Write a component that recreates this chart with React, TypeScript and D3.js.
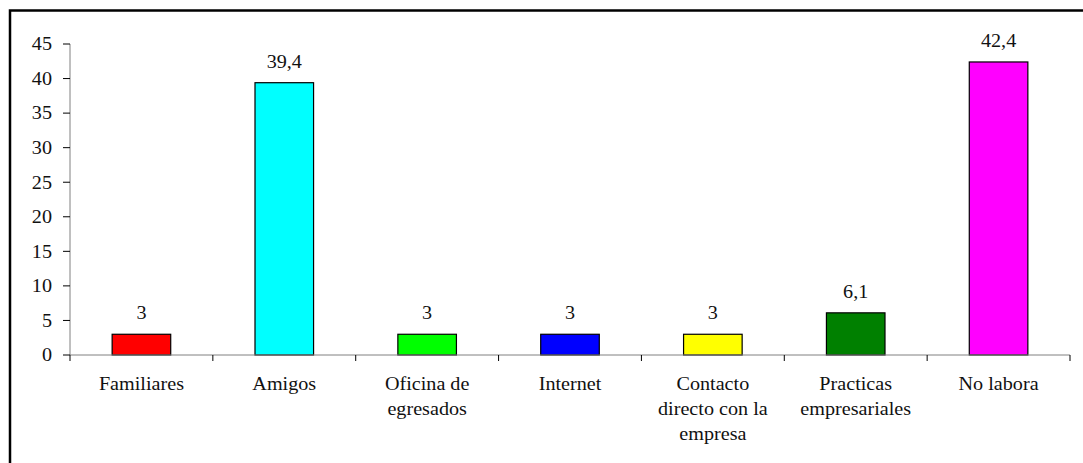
import React from 'react';
import * as d3 from 'd3';

const categories = ['Familiares', 'Amigos', 'Oficina de egresados', 'Internet', 'Contacto directo con la empresa', 'Practicas empresariales', 'No labora'];
const labelLines = [['Familiares'], ['Amigos'], ['Oficina de', 'egresados'], ['Internet'], ['Contacto', 'directo con la', 'empresa'], ['Practicas', 'empresariales'], ['No labora']];
const values = [3, 39.4, 3, 3, 3, 6.1, 42.4];
const valueLabels = ['3', '39,4', '3', '3', '3', '6,1', '42,4'];
const colors = ['#ff0000', '#00ffff', '#00ff00', '#0000ff', '#ffff00', '#008000', '#ff00ff'];
const yTicks = [0, 5, 10, 15, 20, 25, 30, 35, 40, 45];

const W = 1083, H = 463;
const left = 70, right = 1070, top = 44, bottom = 355;
const txt: React.CSSProperties = { fontFamily: "'Liberation Serif', 'Times New Roman', serif", fontSize: 18 };
// the original text is stretched a bit wider than normal Times
const stretch = (x: number, y: number) => `translate(${x},${y}) scale(1.12,1)`;

export default function App() {
  const x = d3.scaleBand().domain(categories).range([left, right]).paddingInner(0).paddingOuter(0);
  const y = d3.scaleLinear().domain([0, 45]).range([bottom, top]);
  const bw = x.bandwidth() * 0.41;

  return (
    <svg width={W} height={H} style={{ position: 'absolute', left: 0, top: 0 }}>
      <rect x={0} y={0} width={W} height={H} fill="#fff" />
      <rect x={10} y={10.5} width={W + 20} height={H + 20} fill="none" stroke="#000" strokeWidth={2.5} />

      {/* y axis */}
      <line x1={left} x2={left} y1={top} y2={bottom} stroke="#808080" strokeWidth={1} />
      {yTicks.map(t => (
        <g key={t}>
          <line x1={left - 7} x2={left} y1={y(t)} y2={y(t)} stroke="#000" strokeWidth={1} />
          <text transform={stretch(52, y(t))} dy="0.35em" textAnchor="end" style={txt} fill="#111">{t}</text>
        </g>
      ))}

      {/* bars */}
      {categories.map((c, i) => {
        const cx = x(c)! + x.bandwidth() / 2;
        return (
          <g key={c}>
            <rect x={cx - bw / 2} y={y(values[i])} width={bw} height={y(0) - y(values[i])}
              fill={colors[i]} stroke="#000" strokeWidth={1.2} />
            <text transform={stretch(cx, y(values[i]) - 15)} textAnchor="middle" style={txt} fill="#111">{valueLabels[i]}</text>
          </g>
        );
      })}

      {/* x axis */}
      <line x1={left} x2={right} y1={bottom} y2={bottom} stroke="#808080" strokeWidth={1} />
      {d3.range(categories.length + 1).map(i => {
        const tx = left + i * x.step();
        return <line key={i} x1={tx} x2={tx} y1={bottom} y2={bottom + 6} stroke="#000" strokeWidth={1} />;
      })}
      {categories.map((c, i) => {
        const cx = x(c)! + x.bandwidth() / 2;
        return (
          <text key={c} transform={stretch(cx, 390)} textAnchor="middle" style={txt} fill="#111">
            {labelLines[i].map((l, j) => (
              <tspan key={j} x={0} dy={j === 0 ? 0 : 25}>{l}</tspan>
            ))}
          </text>
        );
      })}
    </svg>
  );
}
